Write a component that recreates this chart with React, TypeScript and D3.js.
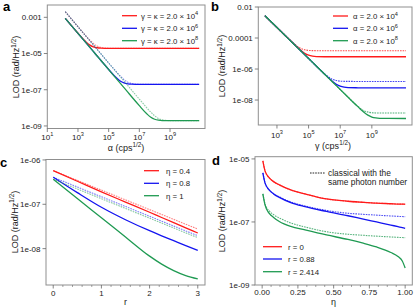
import React from "react";
import * as d3 from "d3";

const FONT = "'Liberation Sans', Arial, Helvetica, sans-serif";
const RED = "#ff1a1a";
const BLUE = "#1414f0";
const GREEN = "#1f9a52";
const FRAME = "#8f8f8f";
const TICK = "#666";
const TXT = "#222";
const DASH = "1.6 1";

// ---------- Panel a : LOD vs alpha (log10 exponents) ----------
const aAlphaExp = [2.17, 3, 3.5, 3.75, 4, 4.25, 4.5, 5, 5.5, 5.75, 6, 6.25, 6.5, 7, 7.5, 7.75, 8, 8.25, 8.5, 9, 10, 10.9];
const aRedSolid = [-3.055, -3.88, -4.34, -4.52, -4.63, -4.68, -4.7, -4.71, -4.71, -4.71, -4.71, -4.71, -4.71, -4.71, -4.71, -4.71, -4.71, -4.71, -4.71, -4.71, -4.71, -4.71];
const aRedDashed = [-2.69, -3.52, -4.01, -4.24, -4.44, -4.59, -4.66, -4.705, -4.71, -4.71, -4.71, -4.71, -4.71, -4.71, -4.71, -4.71, -4.71, -4.71, -4.71, -4.71, -4.71, -4.71];
const aBlueSolid = [-3.055, -3.885, -4.385, -4.635, -4.885, -5.135, -5.385, -5.88, -6.34, -6.515, -6.62, -6.67, -6.69, -6.7, -6.7, -6.7, -6.7, -6.7, -6.7, -6.7, -6.7, -6.7];
const aBlueDashed = [-2.69, -3.52, -4.02, -4.27, -4.52, -4.77, -5.02, -5.52, -6.01, -6.24, -6.44, -6.58, -6.655, -6.695, -6.7, -6.7, -6.7, -6.7, -6.7, -6.7, -6.7, -6.7];
const aGreenSolid = [-3.055, -3.885, -4.385, -4.635, -4.885, -5.135, -5.385, -5.885, -6.385, -6.635, -6.885, -7.135, -7.385, -7.88, -8.34, -8.52, -8.63, -8.68, -8.7, -8.71, -8.71, -8.71];
const aGreenDashed = [-2.69, -3.52, -4.02, -4.27, -4.52, -4.77, -5.02, -5.52, -6.02, -6.27, -6.52, -6.77, -7.02, -7.52, -8.01, -8.24, -8.44, -8.59, -8.66, -8.705, -8.71, -8.71];
const aXTickExp = [1, 3, 5, 7, 9];
const aYTicks = [1e-3, 1e-5, 1e-7, 1e-9];
const aYTickLabels = ["0.001", "1e-05", "1e-07", "1e-09"];
const aLegendExp = ["4", "6", "8"];

// ---------- Panel b : LOD vs gamma ----------
const bGammaExp = [2.24, 3, 3.5, 4, 4.25, 4.5, 4.75, 5, 5.25, 5.5, 6, 6.25, 6.5, 6.75, 7, 7.25, 7.5, 8, 8.25, 8.5, 8.75, 9, 9.25, 9.5, 10, 11.16];
const bRedDashed = [-2.56, -3.32, -3.818, -4.3, -4.51, -4.67, -4.76, -4.8, -4.813, -4.818, -4.82, -4.82, -4.82, -4.82, -4.82, -4.82, -4.82, -4.82, -4.82, -4.82, -4.82, -4.82, -4.82, -4.82, -4.82, -4.82];
const bRedSolid = [-2.56, -3.32, -3.82, -4.317, -4.559, -4.787, -4.978, -5.108, -5.172, -5.197, -5.209, -5.21, -5.21, -5.21, -5.21, -5.21, -5.21, -5.21, -5.21, -5.21, -5.21, -5.21, -5.21, -5.21, -5.21, -5.21];
const bBlueDashed = [-2.56, -3.32, -3.82, -4.32, -4.57, -4.82, -5.07, -5.32, -5.57, -5.818, -6.297, -6.505, -6.659, -6.745, -6.781, -6.794, -6.798, -6.8, -6.8, -6.8, -6.8, -6.8, -6.8, -6.8, -6.8, -6.8];
const bBlueSolid = [-2.56, -3.32, -3.82, -4.32, -4.57, -4.82, -5.07, -5.32, -5.57, -5.82, -6.317, -6.559, -6.787, -6.978, -7.108, -7.172, -7.197, -7.209, -7.21, -7.21, -7.21, -7.21, -7.21, -7.21, -7.21, -7.21];
const bGreenDashed = [-2.56, -3.32, -3.82, -4.32, -4.57, -4.82, -5.07, -5.32, -5.57, -5.82, -6.32, -6.57, -6.82, -7.07, -7.32, -7.57, -7.818, -8.301, -8.515, -8.699, -8.775, -8.817, -8.833, -8.838, -8.84, -8.84];
const bGreenSolid = [-2.56, -3.32, -3.82, -4.32, -4.57, -4.82, -5.07, -5.32, -5.57, -5.82, -6.32, -6.57, -6.82, -7.07, -7.32, -7.57, -7.82, -8.317, -8.558, -8.784, -8.971, -9.095, -9.155, -9.178, -9.189, -9.19];
const bXTickExp = [3, 5, 7, 9];
const bYTicks = [1e-2, 1e-4, 1e-6, 1e-8];
const bYTickLabels = ["0.01", "0.0001", "1e-06", "1e-08"];
const bLegendExp = ["4", "6", "8"];

// ---------- Panel c : LOD vs r ----------
const cR = [0, 0.5, 1, 1.5, 2, 2.25, 2.5, 2.75, 3];
const cRedSolid = [-6.24, -6.48, -6.72, -6.95, -7.18, -7.298, -7.415, -7.531, -7.647];
const cRedDashed = [-6.24, -6.46, -6.68, -6.9, -7.12, -7.23, -7.34, -7.45, -7.557];
const cBlueSolid = [-6.389, -6.737, -7.067, -7.348, -7.596, -7.71, -7.82, -7.93, -8.038];
const cBlueDashed = [-6.389, -6.61, -6.83, -7.05, -7.27, -7.38, -7.49, -7.6, -7.708];
const cGreenSolid = [-6.434, -6.872, -7.303, -7.737, -8.169, -8.348, -8.494, -8.607, -8.681];
const cGreenDashed = [-6.434, -6.654, -6.874, -7.094, -7.314, -7.424, -7.534, -7.644, -7.753];
const cXTicks = [0, 1, 2, 3];
const cXTickLabels = ["0", "1", "2", "3"];
const cYTicks = [1e-6, 1e-7, 1e-8];
const cYTickLabels = ["1e-06", "1e-07", "1e-08"];
const cLegend = ["η = 0.4", "η = 0.8", "η = 1"];

// ---------- Panel d : LOD vs eta ----------
const dEta = [0.005, 0.02, 0.05, 0.08, 0.12, 0.2, 0.3, 0.45, 0.6, 0.7, 0.8, 0.9, 0.95, 0.98, 1.0];
const dRedSolid = [-5.063, -5.381, -5.603, -5.721, -5.825, -5.984, -6.111, -6.27, -6.343, -6.375, -6.403, -6.422, -6.432, -6.435, -6.438];
const dRedDashed = [-5.063, -5.381, -5.603, -5.721, -5.825, -5.984, -6.111, -6.27, -6.343, -6.375, -6.403, -6.422, -6.432, -6.435, -6.438];
const dBlueSolid = [-5.444, -5.762, -5.99, -6.111, -6.222, -6.387, -6.517, -6.667, -6.803, -6.902, -7.0, -7.098, -7.149, -7.178, -7.2];
const dBlueDashed = [-5.444, -5.762, -5.984, -6.102, -6.206, -6.365, -6.492, -6.635, -6.724, -6.756, -6.784, -6.81, -6.822, -6.829, -6.832];
const dGreenSolid = [-6.111, -6.46, -6.73, -6.857, -6.984, -7.143, -7.254, -7.413, -7.556, -7.667, -7.794, -7.968, -8.095, -8.238, -8.46];
const dGreenDashed = [-6.111, -6.429, -6.651, -6.768, -6.873, -7.032, -7.159, -7.311, -7.39, -7.422, -7.451, -7.476, -7.489, -7.495, -7.498];
const dXTicks = [0, 0.25, 0.5, 0.75, 1];
const dXTickLabels = ["0.00", "0.25", "0.50", "0.75", "1.00"];
const dYTicks = [1e-5, 1e-7, 1e-9];
const dYTickLabels = ["1e-05", "1e-07", "1e-09"];
const dLegend = ["r = 0", "r = 0.88", "r = 2.414"];
const dNote = ["classical with the", "same photon number"];

type Series = { x: number[]; y: number[]; color: string; dashed: boolean };

const pow10 = (e: number) => Math.pow(10, e);

function mk(x: number[], y: number[], color: string, dashed: boolean, logX: boolean): Series {
  return { x: logX ? x.map(pow10) : x, y: y.map(pow10), color, dashed };
}

function Curves({ id, series, xs, ys, box, dashOpacity }: any) {
  const gen = d3
    .line<[number, number]>()
    .x((d) => d[0])
    .y((d) => d[1])
    .curve(d3.curveMonotoneX);
  return (
    <g>
      <defs>
        <clipPath id={id}>
          <rect x={box[0]} y={box[2] - 2} width={box[1] - box[0]} height={box[3] - box[2] + 2} />
        </clipPath>
      </defs>
      <g clipPath={`url(#${id})`}>
        {series.map((s: Series, i: number) => {
          const pts = s.x.map((xv, k) => [xs(xv), ys(s.y[k])] as [number, number]);
          return (
            <path
              key={i}
              d={gen(pts) || ""}
              fill="none"
              stroke={s.color}
              strokeWidth={s.dashed ? 1.1 : 1.3}
              strokeDasharray={s.dashed ? DASH : undefined}
              strokeOpacity={s.dashed ? dashOpacity : 1}
            />
          );
        })}
      </g>
    </g>
  );
}

function Frame({ box }: any) {
  return (
    <rect x={box[0]} y={box[2]} width={box[1] - box[0]} height={box[3] - box[2]} fill="none" stroke={FRAME} strokeWidth={1} />
  );
}

function YAxis({ box, ys, ticks, labels }: any) {
  return (
    <g>
      {ticks.map((t: number, i: number) => (
        <g key={i}>
          <line x1={box[0] - 3.5} x2={box[0]} y1={ys(t)} y2={ys(t)} stroke={TICK} strokeWidth={0.8} />
          <text x={box[0] - 5.5} y={ys(t) + 2.9} textAnchor="end" fontSize={8} fill={TXT}>
            {labels[i]}
          </text>
        </g>
      ))}
    </g>
  );
}

function YLabel({ x, y }: any) {
  return (
    <text transform={`translate(${x},${y}) rotate(-90)`} textAnchor="middle" fontSize={9} fill={TXT}>
      LOD (rad/Hz
      <tspan dy={-3.3} fontSize={6.3}>1/2</tspan>
      <tspan dy={3.3}>)</tspan>
    </text>
  );
}

function Legend({ x0, x1, tx, rows, colors, labels, exps }: any) {
  return (
    <g>
      {rows.map((ry: number, i: number) => (
        <g key={i}>
          <line x1={x0} x2={x1} y1={ry} y2={ry} stroke={colors[i]} strokeWidth={1.3} />
          <text x={tx} y={ry + 2.8} fontSize={7.8} fill={TXT}>
            {labels[i]}
            {exps ? (
              <tspan dy={-3.2} fontSize={5.6}>
                {exps[i]}
              </tspan>
            ) : null}
          </text>
        </g>
      ))}
    </g>
  );
}

export default function App() {
  // ---- panel a ----
  const boxA = [47.3, 205, 5, 128.5];
  const xsA = d3.scaleLog().domain([pow10(1), pow10(11.28)]).range([boxA[0], boxA[1]]);
  const ysA = d3.scaleLog().domain([pow10(-9.14), pow10(-2.32)]).range([boxA[3], boxA[2]]);
  const serA = [
    mk(aAlphaExp, aRedDashed, RED, true, true),
    mk(aAlphaExp, aRedSolid, RED, false, true),
    mk(aAlphaExp, aBlueDashed, BLUE, true, true),
    mk(aAlphaExp, aBlueSolid, BLUE, false, true),
    mk(aAlphaExp, aGreenDashed, GREEN, true, true),
    mk(aAlphaExp, aGreenSolid, GREEN, false, true),
  ];

  // ---- panel b ----
  const boxB = [258.3, 412, 7, 125];
  const xsB = d3.scaleLog().domain([pow10(1.82), pow10(11.54)]).range([boxB[0], boxB[1]]);
  const ysB = d3.scaleLog().domain([pow10(-9.61), pow10(-2)]).range([boxB[3], boxB[2]]);
  const serB = [
    mk(bGammaExp, bRedDashed, RED, true, true),
    mk(bGammaExp, bRedSolid, RED, false, true),
    mk(bGammaExp, bBlueDashed, BLUE, true, true),
    mk(bGammaExp, bBlueSolid, BLUE, false, true),
    mk(bGammaExp, bGreenDashed, GREEN, true, true),
    mk(bGammaExp, bGreenSolid, GREEN, false, true),
  ];

  // ---- panel c ----
  const boxC = [46, 205, 159.5, 285];
  const xsC = d3.scaleLinear().domain([-0.15, 3.15]).range([boxC[0], boxC[1]]);
  const ysC = d3.scaleLog().domain([pow10(-8.82), pow10(-5.99)]).range([boxC[3], boxC[2]]);
  const serC = [
    mk(cR, cRedDashed, RED, true, false),
    mk(cR, cRedSolid, RED, false, false),
    mk(cR, cBlueDashed, BLUE, true, false),
    mk(cR, cBlueSolid, BLUE, false, false),
    mk(cR, cGreenDashed, GREEN, true, false),
    mk(cR, cGreenSolid, GREEN, false, false),
  ];
  const cMinor = d3.range(0, 3.0001, 0.2).filter((v) => Math.abs(v - Math.round(v)) > 1e-6);

  // ---- panel d ----
  const boxD = [255, 412.3, 156.7, 285];
  const xsD = d3.scaleLinear().domain([-0.05, 1.05]).range([boxD[0], boxD[1]]);
  const ysD = d3.scaleLog().domain([pow10(-9), pow10(-4.93)]).range([boxD[3], boxD[2]]);
  const serD = [
    mk(dEta, dRedDashed, RED, true, false),
    mk(dEta, dRedSolid, RED, false, false),
    mk(dEta, dBlueDashed, BLUE, true, false),
    mk(dEta, dBlueSolid, BLUE, false, false),
    mk(dEta, dGreenDashed, GREEN, true, false),
    mk(dEta, dGreenSolid, GREEN, false, false),
  ];
  const dMinor = d3.range(0, 1.0001, 0.0625).filter((v) => Math.abs(v * 4 - Math.round(v * 4)) > 1e-6);

  return (
    <>
      <style>{`html,body{margin:0;padding:0;background:#fff;}`}</style>
      <svg width={415} height={307} viewBox="0 0 415 307" style={{ display: "block", fontFamily: FONT }}>
        <rect x={0} y={0} width={415} height={307} fill="#fff" />

        {/* ===== panel a ===== */}
        <Curves id="clipA" series={serA} xs={xsA} ys={ysA} box={boxA} dashOpacity={0.5} />
        <Frame box={boxA} />
        <YAxis box={boxA} ys={ysA} ticks={aYTicks} labels={aYTickLabels} />
        {aXTickExp.map((e, i) => (
          <g key={i}>
            <line x1={xsA(pow10(e))} x2={xsA(pow10(e))} y1={boxA[3]} y2={boxA[3] + 3.5} stroke={TICK} strokeWidth={0.8} />
            <text x={xsA(pow10(e))} y={140} textAnchor="middle" fontSize={8} fill={TXT}>
              10<tspan dy={-3.6} fontSize={5.6}>{e}</tspan>
            </text>
          </g>
        ))}
        <text x={126} y={150.5} textAnchor="middle" fontSize={9} fill={TXT}>
          α (cps<tspan dy={-3.3} fontSize={6.3}>1/2</tspan>
          <tspan dy={3.3}>)</tspan>
        </text>
        <YLabel x={19} y={67} />
        <Legend x0={122} x1={137} tx={141} rows={[15.7, 28.3, 40.7]} colors={[RED, BLUE, GREEN]}
          labels={["γ = κ = 2.0 × 10", "γ = κ = 2.0 × 10", "γ = κ = 2.0 × 10"]} exps={aLegendExp} />
        <text x={3} y={11} fontSize={13} fontWeight="bold" fill="#000">a</text>

        {/* ===== panel b ===== */}
        <Curves id="clipB" series={serB} xs={xsB} ys={ysB} box={boxB} dashOpacity={0.8} />
        <Frame box={boxB} />
        <YAxis box={boxB} ys={ysB} ticks={bYTicks} labels={bYTickLabels} />
        {bXTickExp.map((e, i) => (
          <g key={i}>
            <line x1={xsB(pow10(e))} x2={xsB(pow10(e))} y1={boxB[3]} y2={boxB[3] + 3.5} stroke={TICK} strokeWidth={0.8} />
            <text x={xsB(pow10(e))} y={138} textAnchor="middle" fontSize={8} fill={TXT}>
              10<tspan dy={-3.6} fontSize={5.6}>{e}</tspan>
            </text>
          </g>
        ))}
        <text x={333} y={148.5} textAnchor="middle" fontSize={9} fill={TXT}>
          γ (cps<tspan dy={-3.3} fontSize={6.3}>1/2</tspan>
          <tspan dy={3.3}>)</tspan>
        </text>
        <YLabel x={225} y={66} />
        <Legend x0={333} x1={348} tx={353} rows={[16, 28.3, 40.7]} colors={[RED, BLUE, GREEN]}
          labels={["α = 2.0 × 10", "α = 2.0 × 10", "α = 2.0 × 10"]} exps={bLegendExp} />
        <text x={211} y={11} fontSize={13} fontWeight="bold" fill="#000">b</text>

        {/* ===== panel c ===== */}
        <Curves id="clipC" series={serC} xs={xsC} ys={ysC} box={boxC} dashOpacity={0.55} />
        <Frame box={boxC} />
        <YAxis box={boxC} ys={ysC} ticks={cYTicks} labels={cYTickLabels} />
        {cXTicks.map((t, i) => (
          <g key={i}>
            <line x1={xsC(t)} x2={xsC(t)} y1={boxC[3]} y2={boxC[3] + 3.5} stroke={TICK} strokeWidth={0.8} />
            <text x={xsC(t)} y={295.5} textAnchor="middle" fontSize={8} fill={TXT}>{cXTickLabels[i]}</text>
          </g>
        ))}
        {cMinor.map((t, i) => (
          <line key={i} x1={xsC(t)} x2={xsC(t)} y1={boxC[3]} y2={boxC[3] + 2} stroke={TICK} strokeWidth={0.6} />
        ))}
        <text x={125.5} y={304.5} textAnchor="middle" fontSize={9} fill={TXT}>r</text>
        <YLabel x={17.5} y={222} />
        <Legend x0={144} x1={159} tx={166} rows={[170.7, 183.3, 195.7]} colors={[RED, BLUE, GREEN]} labels={cLegend} />
        <text x={0} y={167} fontSize={13} fontWeight="bold" fill="#000">c</text>

        {/* ===== panel d ===== */}
        <Curves id="clipD" series={serD} xs={xsD} ys={ysD} box={boxD} dashOpacity={0.75} />
        <Frame box={boxD} />
        <YAxis box={boxD} ys={ysD} ticks={dYTicks} labels={dYTickLabels} />
        {dXTicks.map((t, i) => (
          <g key={i}>
            <line x1={xsD(t)} x2={xsD(t)} y1={boxD[3]} y2={boxD[3] + 3.5} stroke={TICK} strokeWidth={0.8} />
            <text x={xsD(t)} y={295} textAnchor="middle" fontSize={8} fill={TXT}>{dXTickLabels[i]}</text>
          </g>
        ))}
        {dMinor.map((t, i) => (
          <line key={i} x1={xsD(t)} x2={xsD(t)} y1={boxD[3]} y2={boxD[3] + 2} stroke={TICK} strokeWidth={0.6} />
        ))}
        <text x={333.5} y={305} textAnchor="middle" fontSize={9} fill={TXT}>η</text>
        <YLabel x={225} y={221} />
        <Legend x0={263} x1={282} tx={288} rows={[246.7, 259, 271.7]} colors={[RED, BLUE, GREEN]} labels={dLegend} />
        <line x1={310} x2={325} y1={173} y2={173} stroke="#222" strokeWidth={1} strokeDasharray={DASH} />
        <text x={328} y={176} fontSize={8.4} fill={TXT}>{dNote[0]}</text>
        <text x={328} y={185.3} fontSize={8.4} fill={TXT}>{dNote[1]}</text>
        <text x={212} y={165} fontSize={13} fontWeight="bold" fill="#000">d</text>
      </svg>
    </>
  );
}
